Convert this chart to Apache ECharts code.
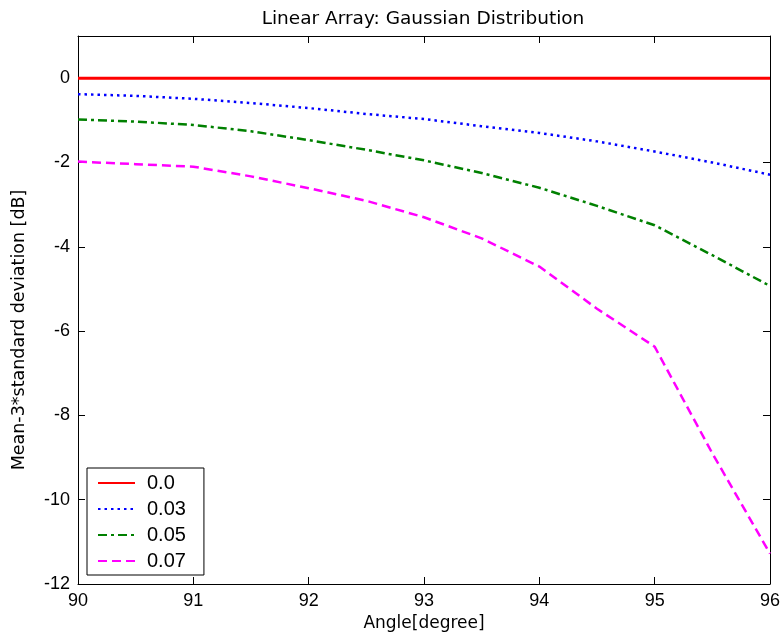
<!DOCTYPE html>
<html>
<head>
<meta charset="utf-8">
<script src="https://cdn.jsdelivr.net/npm/echarts@6/dist/echarts.min.js"></script>
<style>html,body{margin:0;padding:0;background:#fff}#c{width:783px;height:637px}</style>
</head>
<body>
<div id="c"></div>
<script>
const angles = [90, 90.5, 91, 91.5, 92, 92.5, 93, 93.5, 94, 94.5, 95, 95.5, 96];
const s000 = [0, 0, 0, 0, 0, 0, 0, 0, 0, 0, 0, 0, 0];
const s003 = [-0.38, -0.42, -0.49, -0.59, -0.71, -0.85, -0.97, -1.14, -1.30, -1.50, -1.74, -2.00, -2.29];
const s005 = [-0.98, -1.03, -1.11, -1.26, -1.47, -1.70, -1.95, -2.25, -2.60, -3.03, -3.49, -4.20, -4.93];
const s007 = [-1.98, -2.04, -2.10, -2.33, -2.61, -2.91, -3.30, -3.80, -4.47, -5.47, -6.37, -8.90, -11.28];
const seriesNames = ['0.0', '0.03', '0.05', '0.07'];
const xTicks = [90, 91, 92, 93, 94, 95, 96];
const yTicks = [-12, -10, -8, -6, -4, -2, 0];

function pairs(vals){ return angles.map((a,i)=>[a, vals[i]]); }

const font = 'Liberation Sans, Arial, sans-serif';
const wide = 'DejaVu Sans, sans-serif';
const chart = echarts.init(document.getElementById('c'));
const baseAxis = {
  axisLine: {show: true, onZero: false, lineStyle: {color: '#000', width: 1}},
  axisTick: {show: true, inside: true, length: 7, lineStyle: {color: '#000'}},
  splitLine: {show: false}
};
chart.setOption({
  backgroundColor: '#fff',
  animation: false,
  title: {
    text: 'Linear Array: Gaussian Distribution',
    left: 423, top: 10, textAlign: 'center', padding: 0,
    textStyle: {fontFamily: wide, fontSize: 18.5, fontWeight: 'normal', color: '#000'}
  },
  grid: {left: 78, right: 12, top: 36, bottom: 53},
  legend: {
    data: seriesNames,
    orient: 'vertical',
    left: 87, top: 468,
    backgroundColor: '#fff',
    borderColor: '#000', borderWidth: 1,
    padding: [5, 18, 4, 10],
    itemWidth: 37, itemHeight: 14, itemGap: 6,
    itemStyle: {opacity: 0},
    textStyle: {fontFamily: font, fontSize: 20, color: '#000', padding: [0, 0, 0, 7]}
  },
  xAxis: [
    Object.assign({}, baseAxis, {
      type: 'value', min: xTicks[0], max: xTicks[xTicks.length-1], interval: 1, position: 'bottom',
      name: 'Angle[degree]', nameLocation: 'middle', nameGap: 31,
      nameTextStyle: {fontFamily: wide, fontSize: 17, color: '#000'},
      axisLabel: {fontFamily: font, fontSize: 18, color: '#000', margin: 8}
    }),
    Object.assign({}, baseAxis, {
      type: 'value', min: xTicks[0], max: xTicks[xTicks.length-1], interval: 1, position: 'top',
      axisLabel: {show: false}
    })
  ],
  yAxis: [
    Object.assign({}, baseAxis, {
      type: 'value', min: yTicks[0], max: 1, interval: 2, position: 'left',
      name: 'Mean-3*standard deviation [dB]', nameLocation: 'middle', nameGap: 50,
      nameTextStyle: {fontFamily: wide, fontSize: 17.5, color: '#000', padding: [0, 40, 0, 0]},
      axisLabel: {fontFamily: font, fontSize: 18, color: '#000', margin: 8, showMaxLabel: false}
    }),
    Object.assign({}, baseAxis, {
      type: 'value', min: yTicks[0], max: 1, interval: 2, position: 'right',
      axisLabel: {show: false}
    })
  ],
  series: [
    {name: seriesNames[0], type: 'line', data: pairs(s000), symbol: 'none', lineStyle: {color: '#ff0000', width: 3, type: 'solid'}, itemStyle: {color: '#ff0000'}, z: 5},
    {name: seriesNames[1], type: 'line', data: pairs(s003), symbol: 'none', lineStyle: {color: '#0000ff', width: 2.5, type: [2.5, 4]}, itemStyle: {color: '#0000ff'}},
    {name: seriesNames[2], type: 'line', data: pairs(s005), symbol: 'none', lineStyle: {color: '#008000', width: 2.5, type: [9, 4, 3, 4]}, itemStyle: {color: '#008000'}},
    {name: seriesNames[3], type: 'line', data: pairs(s007), symbol: 'none', lineStyle: {color: '#ff00ff', width: 2.5, type: [9, 5]}, itemStyle: {color: '#ff00ff'}}
  ]
});
</script>
</body>
</html>
